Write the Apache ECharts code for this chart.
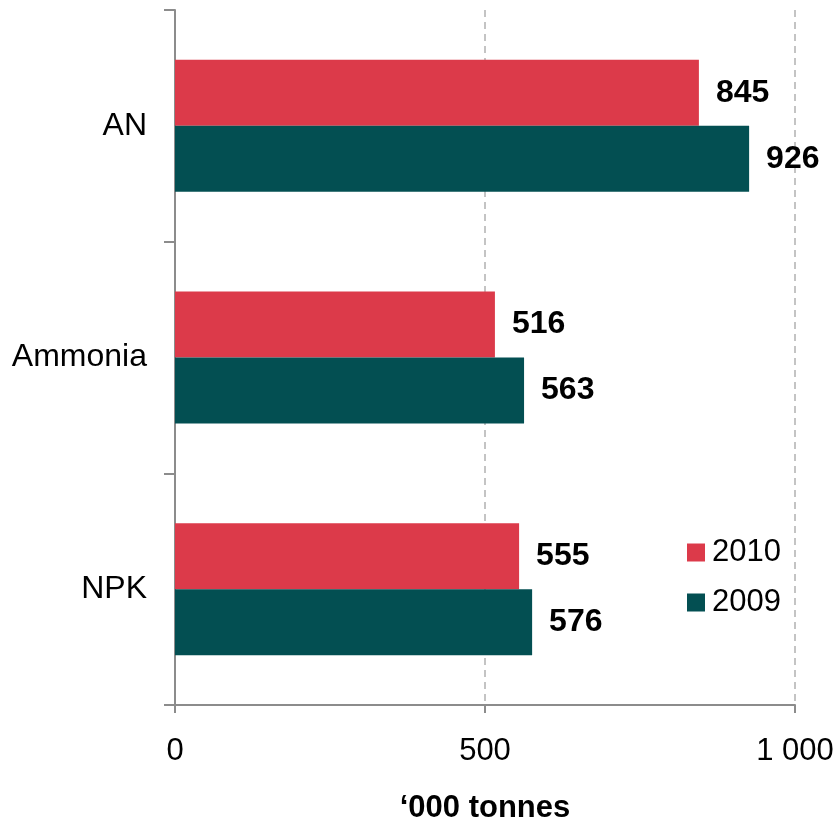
<!DOCTYPE html>
<html>
<head>
<meta charset="utf-8">
<script src="https://cdn.jsdelivr.net/npm/echarts@6/dist/echarts.min.js"></script>
<style>
html,body{margin:0;padding:0;background:#fff;}
#chart{width:839px;height:822px;}
</style>
</head>
<body>
<div id="chart"></div>
<script>
const categories = ['AN', 'Ammonia', 'NPK'];
const values2010 = [845, 516, 555];
const values2009 = [926, 563, 576];
const seriesNames = ['2010', '2009'];
const xTicks = [0, 500, 1000];

const FONT = '"Liberation Sans", Arial, sans-serif';
const chart = echarts.init(document.getElementById('chart'));

const labelCfg = {
  show: true,
  position: 'right',
  distance: 17,
  fontFamily: FONT,
  fontSize: 32,
  fontWeight: 'bold',
  color: '#000'
};

chart.setOption({
  animation: false,
  backgroundColor: '#fff',
  grid: { left: 175, right: 44, top: 10, bottom: 117, containLabel: false, outerBoundsMode: 'none' },
  legend: {
    orient: 'vertical',
    left: 687,
    top: 537,
    padding: 0,
    itemWidth: 18,
    itemHeight: 18,
    itemGap: 19,
    icon: 'rect',
    data: seriesNames,
    textStyle: { fontFamily: FONT, fontSize: 31, color: '#000', padding: [0, 0, 0, 2] }
  },
  xAxis: {
    type: 'value',
    min: xTicks[0],
    max: xTicks[xTicks.length - 1],
    interval: 500,
    name: "\u2018000 tonnes",
    nameLocation: 'middle',
    nameGap: 88,
    nameTextStyle: { fontFamily: FONT, fontSize: 31, fontWeight: 'bold', color: '#000' },
    axisLine: { show: true, lineStyle: { color: '#8c8c8c', width: 2 } },
    axisTick: { show: true, length: 8, lineStyle: { color: '#8c8c8c', width: 2 } },
    axisLabel: {
      margin: 31,
      fontFamily: FONT,
      fontSize: 31,
      color: '#000',
      formatter: v => v >= 1000 ? String(v).replace(/\B(?=(\d{3})+(?!\d))/g, ' ') : String(v)
    },
    splitLine: { show: true, lineStyle: { color: '#c4c4c4', type: [7, 5], width: 2 } }
  },
  yAxis: {
    type: 'category',
    inverse: true,
    data: categories,
    axisLine: { show: true, lineStyle: { color: '#8c8c8c', width: 2 } },
    axisTick: { show: true, length: 11, lineStyle: { color: '#8c8c8c', width: 2 } },
    axisLabel: { margin: 28, fontFamily: FONT, fontSize: 32, color: '#000' },
    splitLine: { show: false }
  },
  series: [
    {
      name: seriesNames[0],
      type: 'bar',
      data: values2010,
      barWidth: 66,
      barGap: '0%',
      itemStyle: { color: '#DC3A4A' },
      label: labelCfg
    },
    {
      name: seriesNames[1],
      type: 'bar',
      data: values2009,
      barWidth: 66,
      barGap: '0%',
      itemStyle: { color: '#034F52' },
      label: labelCfg
    }
  ]
});
</script>
</body>
</html>
